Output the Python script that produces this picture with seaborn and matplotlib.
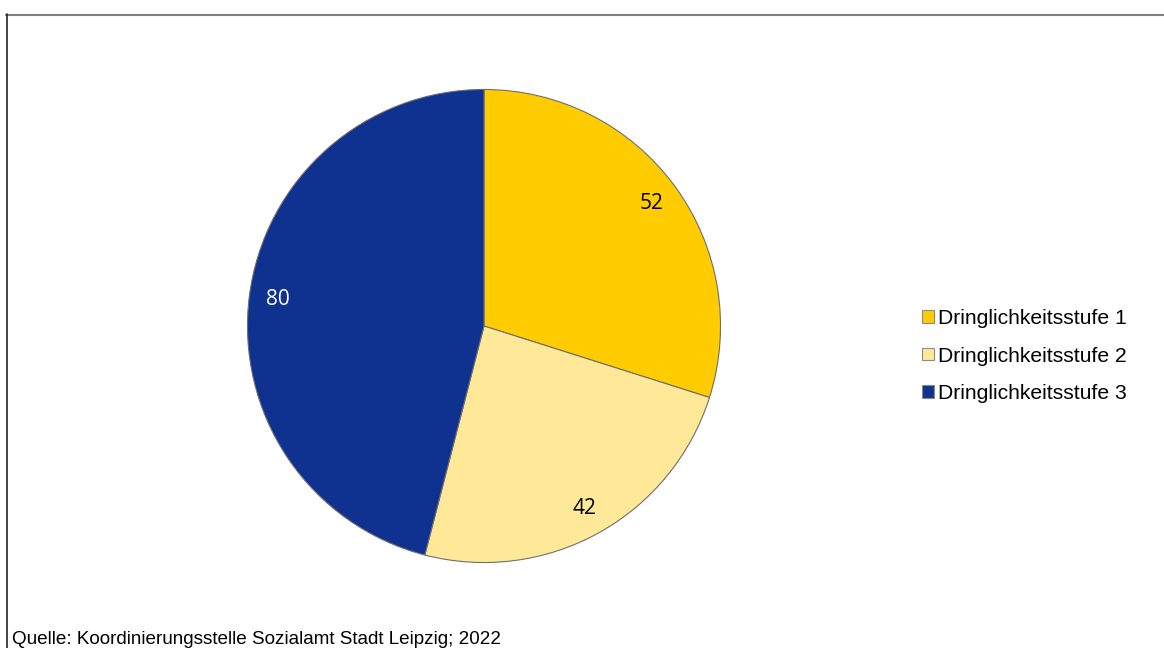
import matplotlib
matplotlib.use("Agg")
import matplotlib.pyplot as plt
import seaborn as sns
from matplotlib.lines import Line2D
from matplotlib.patches import Patch

categories = ["Dringlichkeitsstufe 1", "Dringlichkeitsstufe 2", "Dringlichkeitsstufe 3"]
values = [52, 42, 80]
colors = ["#FFCC00", "#FFE999", "#0F318F"]
label_colors = ["black", "black", "white"]
source = "Quelle: Koordinierungsstelle Sozialamt Stadt Leipzig; 2022"

sns.set_theme(style="white")
plt.rcParams["font.family"] = ["Liberation Sans", "DejaVu Sans"]
plt.rcParams["text.color"] = "black"

W, H = 1164, 648
fig = plt.figure(figsize=(W / 100, H / 100), dpi=100)

cx, cy, r = 484, 326, 237
ax = fig.add_axes([(cx - r) / W, (H - cy - r) / H, 2 * r / W, 2 * r / H])

wedges, texts = ax.pie(
    values,
    colors=colors,
    startangle=90,
    counterclock=False,
    labels=[str(v) for v in values],
    labeldistance=0.88,
    wedgeprops=dict(edgecolor="#6e6e6e", linewidth=0.8),
    textprops=dict(fontsize=15, family=["Open Sans", "DejaVu Sans"]),
)
for t, c in zip(texts, label_colors):
    t.set_color(c)
    t.set_ha("center")
    t.set_va("center")
ax.set_xlim(-1.002, 1.002)
ax.set_ylim(-1.002, 1.002)
ax.set_aspect("equal")
ax.axis("off")

handles = [Patch(facecolor=c, edgecolor="#8a8a8a", linewidth=0.8) for c in colors]
leg = fig.legend(
    handles,
    categories,
    loc="center left",
    bbox_to_anchor=(903 / W, 1 - 356 / H),
    frameon=False,
    fontsize=15.2,
    handlelength=0.55,
    handleheight=0.55,
    handletextpad=0.2,
    labelspacing=0.88,
)
for t in leg.get_texts():
    t.set_color("black")

fig.text(12 / W, 1 - 639 / H, source, fontsize=13.6, ha="left", va="center",
         color="black")

fig.add_artist(Line2D([6 / W, 1], [1 - 14.5 / H] * 2, transform=fig.transFigure,
                      color="#7f7f7f", linewidth=1.5))
fig.add_artist(Line2D([6.5 / W] * 2, [0, 1 - 14 / H], transform=fig.transFigure,
                      color="#222222", linewidth=1.2))

fig.savefig("out.png", dpi=100)
